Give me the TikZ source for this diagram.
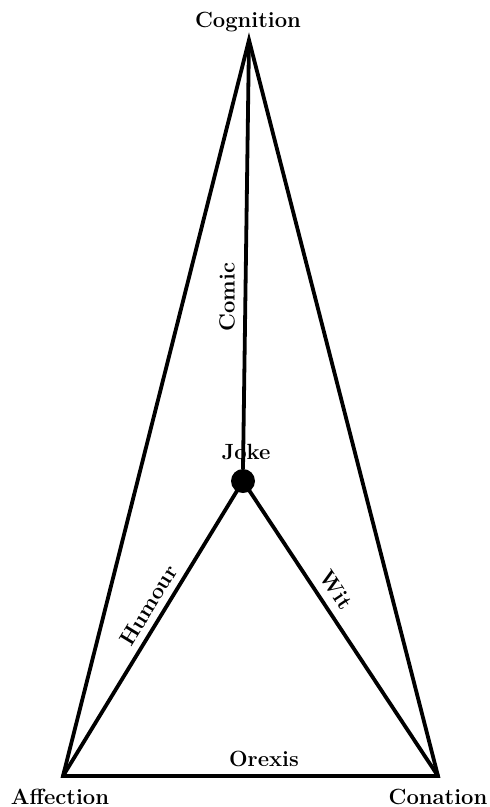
\documentclass[tikz,border=0pt]{standalone}
\usepackage{fontspec}
\setmainfont{Latin Modern Roman}
\newcommand{\lblfont}{\fontsize{22}{26}\selectfont\bfseries}
\begin{document}
\begin{tikzpicture}[x=1pt,y=-1pt,
  edge/.style={line width=3.8pt,line join=miter,line cap=round},
  lbl/.style={font=\lblfont,inner sep=0pt}]
\useasboundingbox (0,0) rectangle (490,807);
\coordinate (cog) at (249,40);
\coordinate (aff) at (63,776);
\coordinate (con) at (438,776);
\node[circle,fill=black,minimum size=24pt,inner sep=0pt] (joke) at (243,481) {};
\draw[edge] (aff) -- (cog) -- (con) -- cycle;
\draw[edge] (cog) -- (joke.north);
\draw[edge] (aff) -- (joke.center) -- (con);
\node[lbl] (tcog) at (248,22) {Cognition};
\node[lbl] (taff) at (60,797) {Affection};
\node[lbl] (tcon) at (438,797) {Conation};
\node[lbl] (tjoke) at (246,452) {Joke};
\node[lbl,rotate=90] (tcomic) at (227,297) {Comic};
\node[lbl] (torexis) at (264,759) {Orexis};
\path (aff) -- node[lbl,sloped,above=8pt,pos=0.57] (thum) {Humour} (joke);
\path (joke) -- node[lbl,sloped,above=10pt,pos=0.38] (twit) {Wit} (con);
\end{tikzpicture}
\end{document}
